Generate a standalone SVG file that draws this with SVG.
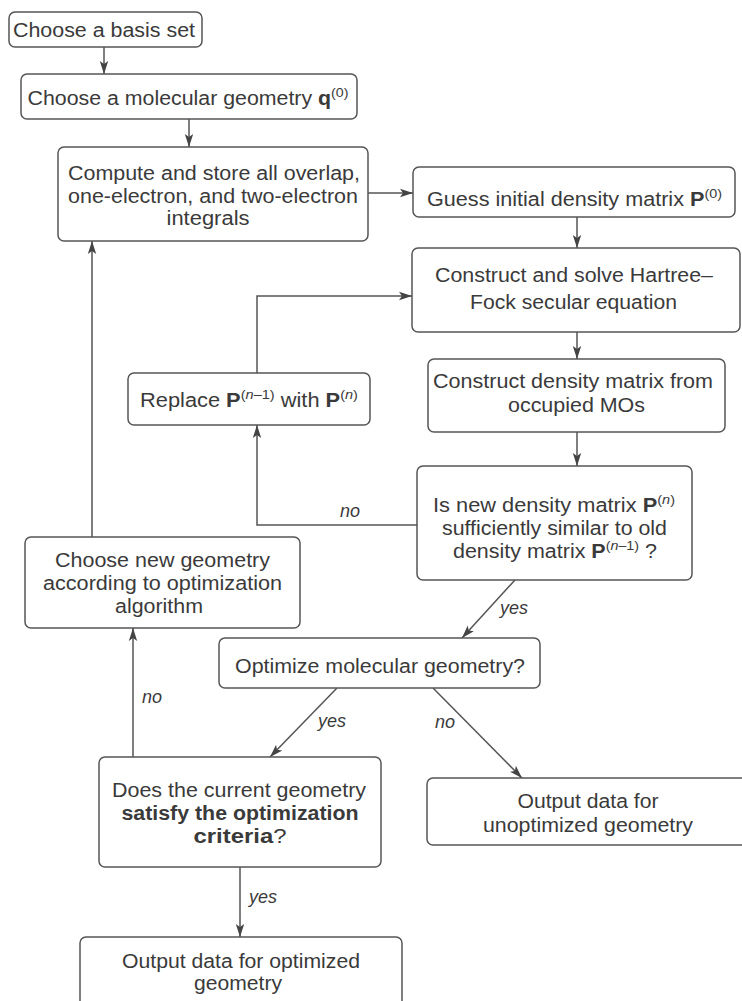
<svg xmlns="http://www.w3.org/2000/svg" width="742" height="1001" viewBox="0 0 742 1001">
<style>
.box{fill:#fff;stroke:#555;stroke-width:1.5}
.t{font-family:"Liberation Sans",Arial,sans-serif;font-size:19.5px;fill:#3a3a3a;text-anchor:middle}
.b{font-weight:bold}
.sup{font-size:13px}
.lbl{font-family:"Liberation Sans",Arial,sans-serif;font-size:18px;font-style:italic;fill:#3a3a3a;text-anchor:middle}
.c{fill:none;stroke:#555;stroke-width:1.5;marker-end:url(#ah)}
</style>
<defs>
<marker id="ah" markerWidth="14" markerHeight="10" refX="13" refY="5" orient="auto" markerUnits="userSpaceOnUse">
<path d="M0,0.8 L13,5 L0,9.2 L3,5 Z" fill="#444"/>
</marker>
</defs>
<rect width="742" height="1001" fill="#fff"/>
<g id="connectors">
<path class="c" d="M104,47 V74"/>
<path class="c" d="M189,119 V147"/>
<path class="c" d="M368,193 H413"/>
<path class="c" d="M577,217 V248"/>
<path class="c" d="M577,332 V359"/>
<path class="c" d="M577,432 V466"/>
<path class="c" d="M417,525 H257 V425"/>
<path class="c" d="M257,373 V296 H412"/>
<path class="c" d="M515,580 L462,638"/>
<path class="c" d="M337,688 L270,757"/>
<path class="c" d="M433,688 L522,778"/>
<path class="c" d="M133,757 V628"/>
<path class="c" d="M92,537 V241"/>
<path class="c" d="M240,867 V937"/>
<text class="lbl" x="350" y="517">no</text>
<text class="lbl" x="514" y="614">yes</text>
<text class="lbl" x="152" y="703">no</text>
<text class="lbl" x="332" y="727">yes</text>
<text class="lbl" x="445" y="728">no</text>
<text class="lbl" x="263" y="903">yes</text>
</g>
<g id="n1">
<rect class="box" x="9" y="12" width="193" height="35" rx="6"/>
<text class="t" x="104" y="37" textLength="182" lengthAdjust="spacingAndGlyphs">Choose a basis set</text>
</g>
<g id="n2">
<rect class="box" x="21" y="74" width="336" height="45" rx="6"/>
<text class="t" x="188" y="105" textLength="321" lengthAdjust="spacingAndGlyphs">Choose a molecular geometry <tspan class="b">q</tspan><tspan class="sup" dy="-8">(0)</tspan></text>
</g>
<g id="n3">
<rect class="box" x="58" y="147" width="310" height="94" rx="6"/>
<text class="t" x="214" y="180" textLength="292" lengthAdjust="spacingAndGlyphs">Compute and store all overlap,</text>
<text class="t" x="213" y="203" textLength="290" lengthAdjust="spacingAndGlyphs">one-electron, and two-electron</text>
<text class="t" x="208" y="225" textLength="83" lengthAdjust="spacingAndGlyphs">integrals</text>
</g>
<g id="n4">
<rect class="box" x="413" y="167" width="322" height="50" rx="6"/>
<text class="t" x="574.5" y="206" textLength="295" lengthAdjust="spacingAndGlyphs">Guess initial density matrix <tspan class="b">P</tspan><tspan class="sup" dy="-8">(0)</tspan></text>
</g>
<g id="n5">
<rect class="box" x="412" y="248" width="328" height="84" rx="6"/>
<text class="t" x="574" y="282" textLength="278" lengthAdjust="spacingAndGlyphs">Construct and solve Hartree–</text>
<text class="t" x="573.5" y="309" textLength="207" lengthAdjust="spacingAndGlyphs">Fock secular equation</text>
</g>
<g id="n6">
<rect class="box" x="428" y="359" width="297" height="73" rx="6"/>
<text class="t" x="573" y="388" textLength="280" lengthAdjust="spacingAndGlyphs">Construct density matrix from</text>
<text class="t" x="576.5" y="412" textLength="137" lengthAdjust="spacingAndGlyphs">occupied MOs</text>
</g>
<g id="n7">
<rect class="box" x="417" y="466" width="275" height="114" rx="6"/>
<text class="t" x="554" y="512" textLength="242" lengthAdjust="spacingAndGlyphs">Is new density matrix <tspan class="b">P</tspan><tspan class="sup" dy="-8">(<tspan font-style="italic">n</tspan>)</tspan></text>
<text class="t" x="554.5" y="535" textLength="225" lengthAdjust="spacingAndGlyphs">sufficiently similar to old</text>
<text class="t" x="555" y="558" textLength="204" lengthAdjust="spacingAndGlyphs">density matrix <tspan class="b">P</tspan><tspan class="sup" dy="-8">(<tspan font-style="italic">n</tspan>–1)</tspan><tspan dy="8"> ?</tspan></text>
</g>
<g id="n8">
<rect class="box" x="128" y="373" width="242" height="52" rx="6"/>
<text class="t" x="249" y="407" textLength="218" lengthAdjust="spacingAndGlyphs">Replace <tspan class="b">P</tspan><tspan class="sup" dy="-8">(<tspan font-style="italic">n</tspan>–1)</tspan><tspan dy="8"> with </tspan><tspan class="b">P</tspan><tspan class="sup" dy="-8">(<tspan font-style="italic">n</tspan>)</tspan></text>
</g>
<g id="n9">
<rect class="box" x="25" y="537" width="275" height="91" rx="6"/>
<text class="t" x="162.5" y="567" textLength="215" lengthAdjust="spacingAndGlyphs">Choose new geometry</text>
<text class="t" x="162.5" y="590" textLength="239" lengthAdjust="spacingAndGlyphs">according to optimization</text>
<text class="t" x="159" y="613" textLength="88" lengthAdjust="spacingAndGlyphs">algorithm</text>
</g>
<g id="n10">
<rect class="box" x="219" y="638" width="321" height="50" rx="6"/>
<text class="t" x="380" y="673" textLength="290" lengthAdjust="spacingAndGlyphs">Optimize molecular geometry?</text>
</g>
<g id="n11">
<rect class="box" x="99" y="757" width="282" height="110" rx="6"/>
<text class="t" x="239" y="797" textLength="254" lengthAdjust="spacingAndGlyphs">Does the current geometry</text>
<text class="t b" x="240" y="820" textLength="237" lengthAdjust="spacingAndGlyphs">satisfy the optimization</text>
<text class="t" x="240" y="843" textLength="93" lengthAdjust="spacingAndGlyphs"><tspan class="b">criteria</tspan>?</text>
</g>
<g id="n12">
<rect class="box" x="427" y="778" width="322" height="67" rx="6"/>
<text class="t" x="588" y="808" textLength="141" lengthAdjust="spacingAndGlyphs">Output data for</text>
<text class="t" x="588" y="832" textLength="210" lengthAdjust="spacingAndGlyphs">unoptimized geometry</text>
</g>
<g id="n13">
<rect class="box" x="80" y="937" width="322" height="80" rx="6"/>
<text class="t" x="241" y="968" textLength="238" lengthAdjust="spacingAndGlyphs">Output data for optimized</text>
<text class="t" x="238" y="990" textLength="88" lengthAdjust="spacingAndGlyphs">geometry</text>
</g>
</svg>
